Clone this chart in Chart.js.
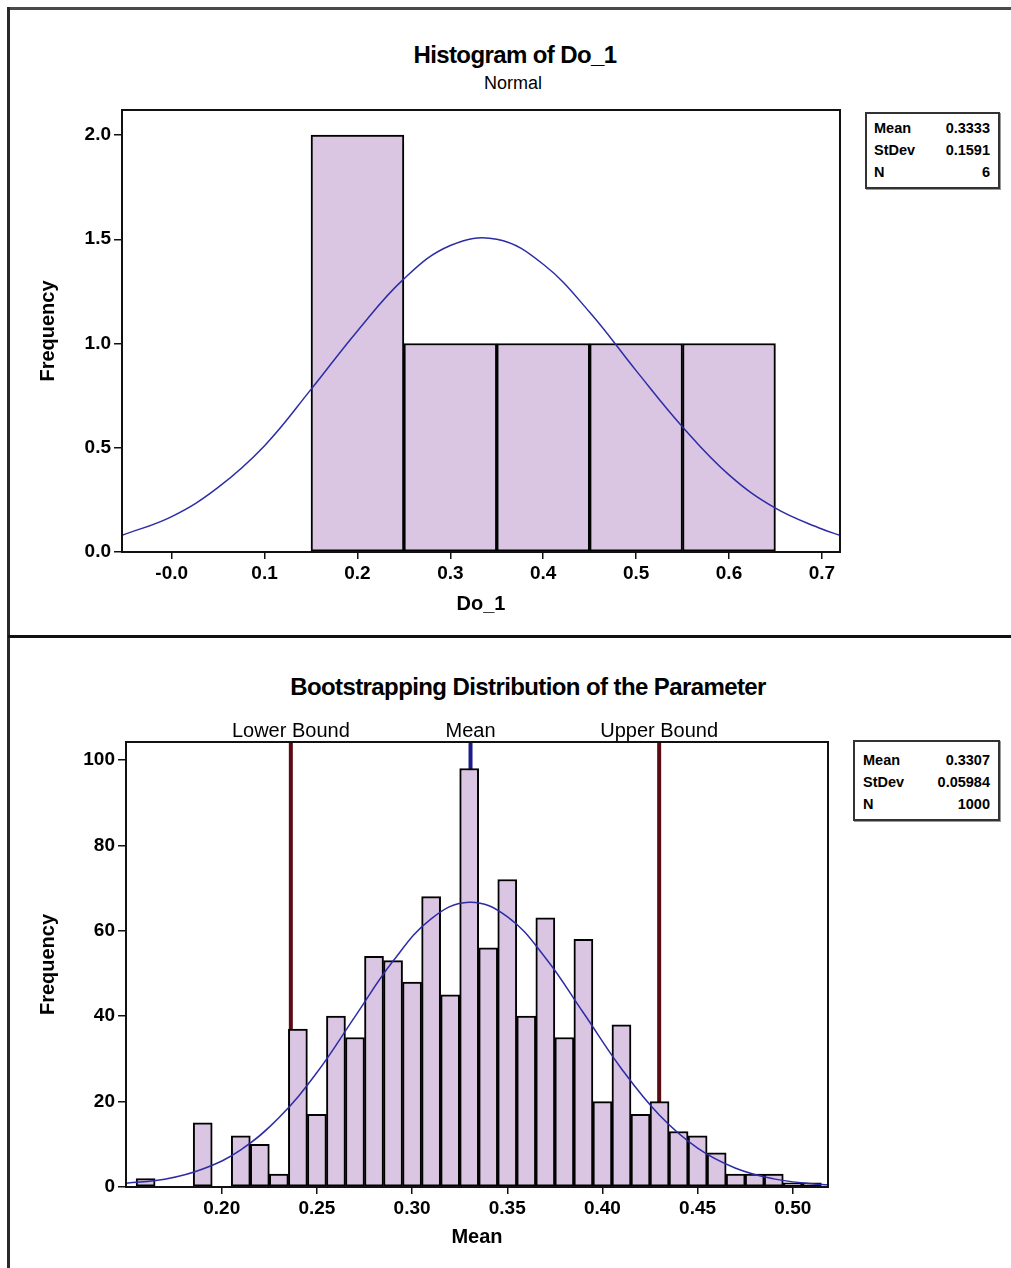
<!DOCTYPE html>
<html>
<head>
<meta charset="utf-8">
<script src="https://cdn.jsdelivr.net/npm/chart.js@4.4.1/dist/chart.umd.min.js"></script>
<style>
  body { margin: 0; background: #fff; width: 1011px; height: 1268px; position: relative; overflow: hidden;
         font-family: 'Liberation Sans', Arial, sans-serif; color: #000; }
  canvas { position: absolute; left: 0; }
  #histChart { top: 0; }
  #bootChart { top: 638px; }
  .frame-top { position: absolute; left: 8px; top: 7px; width: 1003px; height: 3px; background: #4a4a4a; }
  .frame-left { position: absolute; left: 7px; top: 7px; width: 3px; height: 1261px; background: #2a2a2a; }
  .separator { position: absolute; left: 8px; top: 635px; width: 1003px; height: 3px; background: #111; }
  .title { position: absolute; font-weight: bold; font-size: 24px; letter-spacing: -0.6px; white-space: nowrap;
           transform: translate(-50%, -50%); }
  .subtitle { position: absolute; font-size: 18px; transform: translate(-50%, -50%); }
  .stats { position: absolute; border: 2px solid #333; background: #fff; font-weight: bold; font-size: 14.5px;
           box-shadow: 1px 1px 0 #999; box-sizing: border-box; }
  .stats table { border-collapse: collapse; width: 100%; }
  .stats td { padding: 0; line-height: 22px; }
  .stats td.v { text-align: right; }
</style>
</head>
<body>
<div class="frame-top"></div>
<div class="frame-left"></div>
<div class="separator"></div>

<div class="title" style="left:515px; top:55px;">Histogram of Do_1</div>
<div class="subtitle" style="left:513px; top:83px;">Normal</div>
<div class="title" style="left:528px; top:687px;">Bootstrapping Distribution of the Parameter</div>

<div class="stats" style="left:865px; top:112px; width:135px; height:77px; padding:3px 8px 0 7px;">
  <table id="statsTop"></table>
</div>
<div class="stats" style="left:853px; top:740px; width:147px; height:81px; padding:7px 8px 0 8px;">
  <table id="statsBoot"></table>
</div>

<canvas id="histChart" width="1011" height="637"></canvas>
<canvas id="bootChart" width="1011" height="630"></canvas>

<script>
// ==========================
// Histogram of Do_1 (6 valeurs, classes de 0.1)
// ==========================
const histBins = [0.2, 0.3, 0.4, 0.5, 0.6];
const histCounts = [2, 1, 1, 1, 1];
const histTicks = [0, 0.1, 0.2, 0.3, 0.4, 0.5, 0.6, 0.7];
const histTickLabels = ["-0.0", "0.1", "0.2", "0.3", "0.4", "0.5", "0.6", "0.7"];
const histYTicks = [0, 0.5, 1.0, 1.5, 2.0];
// courbe normale
const histCurveX = [-0.0535, 0, 0.05, 0.10, 0.15, 0.20, 0.25, 0.30, 0.35, 0.40, 0.45, 0.50, 0.55, 0.60, 0.65, 0.70, 0.7195];
const histCurveY = [0.08, 0.17, 0.31, 0.51, 0.78, 1.06, 1.31, 1.47, 1.50, 1.38, 1.15, 0.87, 0.60, 0.37, 0.21, 0.11, 0.08];
const histStatNames = ["Mean", "StDev", "N"];
const histStatValues = ["0.3333", "0.1591", "6"];

// ==========================
// Bootstrapping distribution (1000 moyennes, classes de 0.01)
// ==========================
const bootBins = [0.16, 0.17, 0.18, 0.19, 0.20, 0.21, 0.22, 0.23, 0.24, 0.25, 0.26, 0.27, 0.28, 0.29, 0.30, 0.31, 0.32, 0.33,
                  0.34, 0.35, 0.36, 0.37, 0.38, 0.39, 0.40, 0.41, 0.42, 0.43, 0.44, 0.45, 0.46, 0.47, 0.48, 0.49, 0.50, 0.51];
const bootCounts = [2, 0, 0, 15, 0, 12, 10, 3, 37, 17, 40, 35, 54, 53, 48, 68, 45, 98,
                    56, 72, 40, 63, 35, 58, 20, 38, 17, 20, 13, 12, 8, 3, 3, 3, 1, 1];
const bootTicks = [0.20, 0.25, 0.30, 0.35, 0.40, 0.45, 0.50];
const bootYTicks = [0, 20, 40, 60, 80, 100];
const bootCurveX = [0.1497, 0.17, 0.19, 0.21, 0.23, 0.25, 0.27, 0.29, 0.31, 0.33, 0.35, 0.37, 0.39, 0.41, 0.43, 0.45, 0.47, 0.49, 0.51, 0.5185];
const bootCurveY = [0.9, 1.8, 4.2, 8.7, 16.2, 26.8, 39.9, 52.9, 62.8, 66.7, 63.3, 53.7, 40.8, 27.7, 16.8, 9.1, 4.4, 1.9, 0.75, 0.5];
const boundLabels = ["Lower Bound", "Mean", "Upper Bound"];
const boundValues = [0.2363, 0.3307, 0.4298];
const boundColors = ["#5c0b12", "#1c1c8c", "#5c0b12"];
const bootStatNames = ["Mean", "StDev", "N"];
const bootStatValues = ["0.3307", "0.05984", "1000"];

// ==========================
// Tableaux de stats (HTML)
// ==========================
function fillStats(id, names, values) {
  const table = document.getElementById(id);
  names.forEach((n, i) => {
    const tr = document.createElement("tr");
    tr.innerHTML = `<td>${n}</td><td class="v">${values[i]}</td>`;
    table.appendChild(tr);
  });
}
fillStats("statsTop", histStatNames, histStatValues);
fillStats("statsBoot", bootStatNames, bootStatValues);

// ==========================
// Réglages communs
// ==========================
Chart.defaults.font.family = "'Liberation Sans', Arial, sans-serif";
Chart.defaults.color = "#000";

const barFill = "#dac6e3";
const curveColor = "#2c2ca6";

// cadre complet autour de la zone de tracé
const plotFrame = {
  id: "plotFrame",
  afterDraw(chart) {
    const { ctx, chartArea: a } = chart;
    ctx.save();
    ctx.strokeStyle = "#111";
    ctx.lineWidth = 2;
    ctx.strokeRect(a.left, a.top, a.right - a.left, a.bottom - a.top);
    ctx.restore();
  }
};

// lignes verticales (bornes + moyenne) derrière les barres
const boundLines = {
  id: "boundLines",
  beforeDatasetsDraw(chart) {
    const { ctx, chartArea: a, scales: { x } } = chart;
    ctx.save();
    boundValues.forEach((v, i) => {
      const px = x.getPixelForValue(v);
      ctx.strokeStyle = boundColors[i];
      ctx.lineWidth = 4;
      ctx.beginPath();
      ctx.moveTo(px, a.top);
      ctx.lineTo(px, a.bottom);
      ctx.stroke();
    });
    ctx.restore();
  },
  afterDraw(chart) {
    const { ctx, chartArea: a, scales: { x } } = chart;
    ctx.save();
    ctx.font = "20px 'Liberation Sans', Arial, sans-serif";
    ctx.fillStyle = "#000";
    ctx.textAlign = "center";
    ctx.textBaseline = "bottom";
    boundValues.forEach((v, i) => {
      ctx.fillText(boundLabels[i], x.getPixelForValue(v), a.top - 1);
    });
    ctx.restore();
  }
};

function axisX(min, max, ticks, labelFn, title, height) {
  return {
    type: "linear",
    min: min,
    max: max,
    offset: false,
    afterBuildTicks: s => { s.ticks = ticks.map(v => ({ value: v })); },
    afterFit: s => { s.height = height; },
    ticks: { callback: labelFn, font: { size: 19, weight: "bold" }, padding: 3, maxRotation: 0, autoSkip: false },
    grid: { display: true, offset: false, drawOnChartArea: false, drawTicks: true, tickLength: 7, color: "#111", lineWidth: 1.5 },
    border: { display: true, color: "#111", width: 2 },
    title: { display: true, text: title, font: { size: 20, weight: "bold" }, padding: { top: 0, bottom: 4 } }
  };
}

function axisY(max, ticks, labelFn, width) {
  return {
    min: 0,
    max: max,
    afterBuildTicks: s => { s.ticks = ticks.map(v => ({ value: v })); },
    afterFit: s => { s.width = width; },
    ticks: { callback: labelFn, font: { size: 19, weight: "bold" }, padding: 3 },
    grid: { display: true, drawOnChartArea: false, drawTicks: true, tickLength: 8, color: "#111", lineWidth: 1.5 },
    border: { display: true, color: "#111", width: 2 },
    title: { display: true, text: "Frequency", font: { size: 20, weight: "bold" }, padding: { top: 36, bottom: 0 } }
  };
}

// ==========================
// Graph 1 : histogramme Do_1
// ==========================
new Chart(document.getElementById("histChart"), {
  type: "bar",
  data: {
    datasets: [
      {
        type: "line",
        data: histCurveX.map((x, i) => ({ x: x, y: histCurveY[i] })),
        borderColor: curveColor,
        borderWidth: 1.5,
        pointRadius: 0,
        tension: 0.4,
        order: 0
      },
      {
        type: "bar",
        data: histBins.map((x, i) => ({ x: x, y: histCounts[i] })),
        backgroundColor: barFill,
        borderColor: "#000",
        borderWidth: 2,
        borderSkipped: false,
        barPercentage: 1,
        categoryPercentage: 1,
        order: 1
      }
    ]
  },
  options: {
    responsive: false,
    animation: false,
    layout: { padding: { top: 110, right: 171, bottom: 17, left: 0 } },
    plugins: { legend: { display: false }, tooltip: { enabled: false } },
    scales: {
      x: axisX(-0.0535, 0.7195, histTicks, (v, i) => histTickLabels[i], "Do_1", 68),
      y: axisY(2.12, histYTicks, v => v.toFixed(1), 122)
    }
  },
  plugins: [plotFrame]
});

// ==========================
// Graph 2 : distribution bootstrap
// ==========================
new Chart(document.getElementById("bootChart"), {
  type: "bar",
  data: {
    datasets: [
      {
        type: "line",
        data: bootCurveX.map((x, i) => ({ x: x, y: bootCurveY[i] })),
        borderColor: curveColor,
        borderWidth: 1.5,
        pointRadius: 0,
        tension: 0.4,
        order: 0
      },
      {
        type: "bar",
        // classes vides = pas de barre
        data: bootBins.map((x, i) => ({ x: x, y: bootCounts[i] > 0 ? bootCounts[i] : null })),
        backgroundColor: barFill,
        borderColor: "#000",
        borderWidth: 2,
        borderSkipped: false,
        barPercentage: 1,
        categoryPercentage: 1,
        order: 1
      }
    ]
  },
  options: {
    responsive: false,
    animation: false,
    layout: { padding: { top: 104, right: 183, bottom: 15, left: 0 } },
    plugins: { legend: { display: false }, tooltip: { enabled: false } },
    scales: {
      x: axisX(0.1497, 0.5185, bootTicks, v => v.toFixed(2), "Mean", 66),
      y: axisY(104.2, bootYTicks, v => v, 126)
    }
  },
  plugins: [boundLines, plotFrame]
});
</script>
</body>
</html>
